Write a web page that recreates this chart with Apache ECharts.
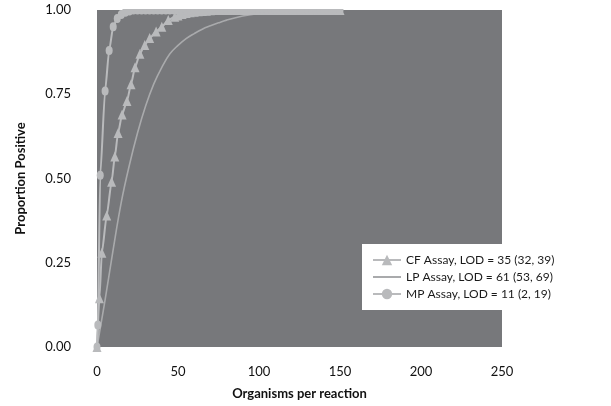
<!DOCTYPE html>
<html>
<head>
<meta charset="utf-8">
<script src="https://cdn.jsdelivr.net/npm/echarts@6/dist/echarts.min.js"></script>
<style>
    html, body { margin: 0; padding: 0; background: #fff; }
    #main { width: 611px; height: 406px; }
</style>
</head>
<body>
<div id="main"></div>
<script>
// CF assay (triangles)
var cfX = [0, 1.5, 3, 6, 9, 11, 13, 15.5, 18.5, 21, 23.5, 26.5, 29.5, 32.5, 36.5, 40, 44, 48,
    50, 52.5, 55, 57.5, 60, 62.5, 65, 67.5, 70, 72.5, 75, 77.5, 80, 82.5, 85, 87.5, 90, 92.5,
    95, 97.5, 100, 102.5, 105, 107.5, 110, 112.5, 115, 117.5, 120, 122.5, 125, 127.5, 130,
    132.5, 135, 137.5, 140, 142.5, 145, 147.5, 150];
var cfY = [0, 0.145, 0.28, 0.39, 0.49, 0.565, 0.635, 0.69, 0.73, 0.78, 0.83, 0.87, 0.896, 0.917, 0.936, 0.95, 0.97, 0.98,
    0.984, 0.988, 0.991, 0.993, 0.995, 0.996, 0.997, 0.998, 0.999, 1, 1, 1, 1, 1, 1, 1, 1, 1,
    1, 1, 1, 1, 1, 1, 1, 1, 1, 1, 1, 1, 1, 1, 1,
    1, 1, 1, 1, 1, 1, 1, 1];

// LP assay (plain line)
var lpX = [0, 5, 10, 15, 20, 25, 30, 35, 40, 45, 50, 55, 60, 65, 70, 75, 80, 90, 100, 110, 120, 130, 140, 150];
var lpY = [0, 0.14, 0.29, 0.43, 0.54, 0.635, 0.715, 0.78, 0.83, 0.87, 0.895, 0.915, 0.93, 0.943, 0.953, 0.962, 0.97, 0.982, 0.99, 0.995, 0.998, 1, 1, 1];

// MP assay (circles)
var mpX = [0, 0.5, 2, 5, 7.5, 10, 12.5, 15, 17.5, 20, 22.5, 25, 27.5, 30, 32.5, 35, 37.5, 40,
    42.5, 45, 47.5, 50, 52.5, 55, 57.5, 60, 62.5, 65, 67.5, 70, 72.5, 75, 77.5, 80, 82.5, 85,
    87.5, 90, 92.5, 95, 97.5, 100, 102.5, 105, 107.5, 110, 112.5, 115, 117.5, 120, 122.5, 125,
    127.5, 130, 132.5, 135, 137.5, 140, 142.5, 145, 147.5, 150];
var mpY = [0, 0.065, 0.51, 0.76, 0.88, 0.95, 0.975, 0.987, 0.993, 0.997, 1, 1, 1, 1, 1, 1, 1, 1,
    1, 1, 1, 1, 1, 1, 1, 1, 1, 1, 1, 1, 1, 1, 1, 1, 1, 1,
    1, 1, 1, 1, 1, 1, 1, 1, 1, 1, 1, 1, 1, 1, 1, 1,
    1, 1, 1, 1, 1, 1, 1, 1, 1, 1];

var seriesNames = ['CF Assay, LOD = 35 (32, 39)', 'LP Assay, LOD = 61 (53, 69)', 'MP Assay, LOD = 11 (2, 19)'];
var xTicks = [0, 50, 100, 150, 200, 250];
var yTicks = [0, 0.25, 0.5, 0.75, 1];

function pairs(xs, ys) {
    return xs.map(function (x, i) { return [x, ys[i]]; });
}

var myChart = echarts.init(document.getElementById('main'));
var font = 'Lato';
var markColor = '#b9babc';

var option = {
    animation: false,
    textStyle: { fontFamily: font },
    grid: {
        left: 97, right: 109, top: 10, bottom: 59,
        show: true,
        backgroundColor: '#77787b',
        borderWidth: 0
    },
    // white strip above the plot so the top row of markers is cut at the plot edge
    graphic: [{
        type: 'rect',
        left: 90, top: 0,
        shape: { width: 420, height: 9 },
        style: { fill: '#ffffff' },
        z: 100
    }],
    legend: {
        orient: 'vertical',
        left: 362,
        top: 244,
        backgroundColor: '#ffffff',
        padding: [10, 9, 10, 10],
        itemWidth: 28,
        itemHeight: 13,
        itemGap: 5,
        textStyle: { fontFamily: font, fontSize: 12, color: '#1a1a1a' },
        data: [
            { name: seriesNames[0] },
            { name: seriesNames[1], itemStyle: { opacity: 0 } },
            { name: seriesNames[2] }
        ]
    },
    xAxis: {
        type: 'value',
        min: 0, max: 250, interval: 50,
        name: 'Organisms per reaction',
        nameLocation: 'middle',
        nameGap: 40,
        nameTextStyle: { fontFamily: font, fontSize: 13, fontWeight: 'bold', color: '#111' },
        axisLine: { show: false },
        axisTick: { show: false },
        splitLine: { show: false },
        axisLabel: {
            margin: 18, fontSize: 13, color: '#111',
            formatter: function (v) { return xTicks.indexOf(v) >= 0 ? String(v) : ''; }
        }
    },
    yAxis: {
        type: 'value',
        min: 0, max: 1, interval: 0.25,
        name: 'Proportion Positive',
        nameLocation: 'middle',
        nameGap: 70,
        nameTextStyle: { fontFamily: font, fontSize: 13, fontWeight: 'bold', color: '#111' },
        axisLine: { show: false },
        axisTick: { show: false },
        splitLine: { show: false },
        axisLabel: {
            margin: 26, fontSize: 13, color: '#111',
            formatter: function (v) {
                return yTicks.indexOf(v) >= 0 ? v.toFixed(2) : '';
            }
        }
    },
    series: [
        {
            name: seriesNames[0],
            type: 'line',
            data: pairs(cfX, cfY),
            symbol: 'triangle',
            symbolSize: [9, 10],
            showAllSymbol: true,
            smooth: 0.2,
            smoothMonotone: 'x',
            itemStyle: { color: markColor },
            lineStyle: { color: markColor, width: 2 },
            z: 3
        },
        {
            name: seriesNames[1],
            type: 'line',
            data: pairs(lpX, lpY),
            symbol: 'none',
            smooth: 0.4,
            itemStyle: { color: '#a9aaac' },
            lineStyle: { color: '#a9aaac', width: 1.6 },
            z: 2
        },
        {
            name: seriesNames[2],
            type: 'line',
            data: pairs(mpX, mpY),
            symbol: 'circle',
            symbolSize: [7, 9],
            showAllSymbol: true,
            smooth: 0.2,
            smoothMonotone: 'x',
            itemStyle: { color: markColor },
            lineStyle: { color: markColor, width: 2 },
            z: 4
        }
    ]
};
myChart.setOption(option);
</script>
</body>
</html>
